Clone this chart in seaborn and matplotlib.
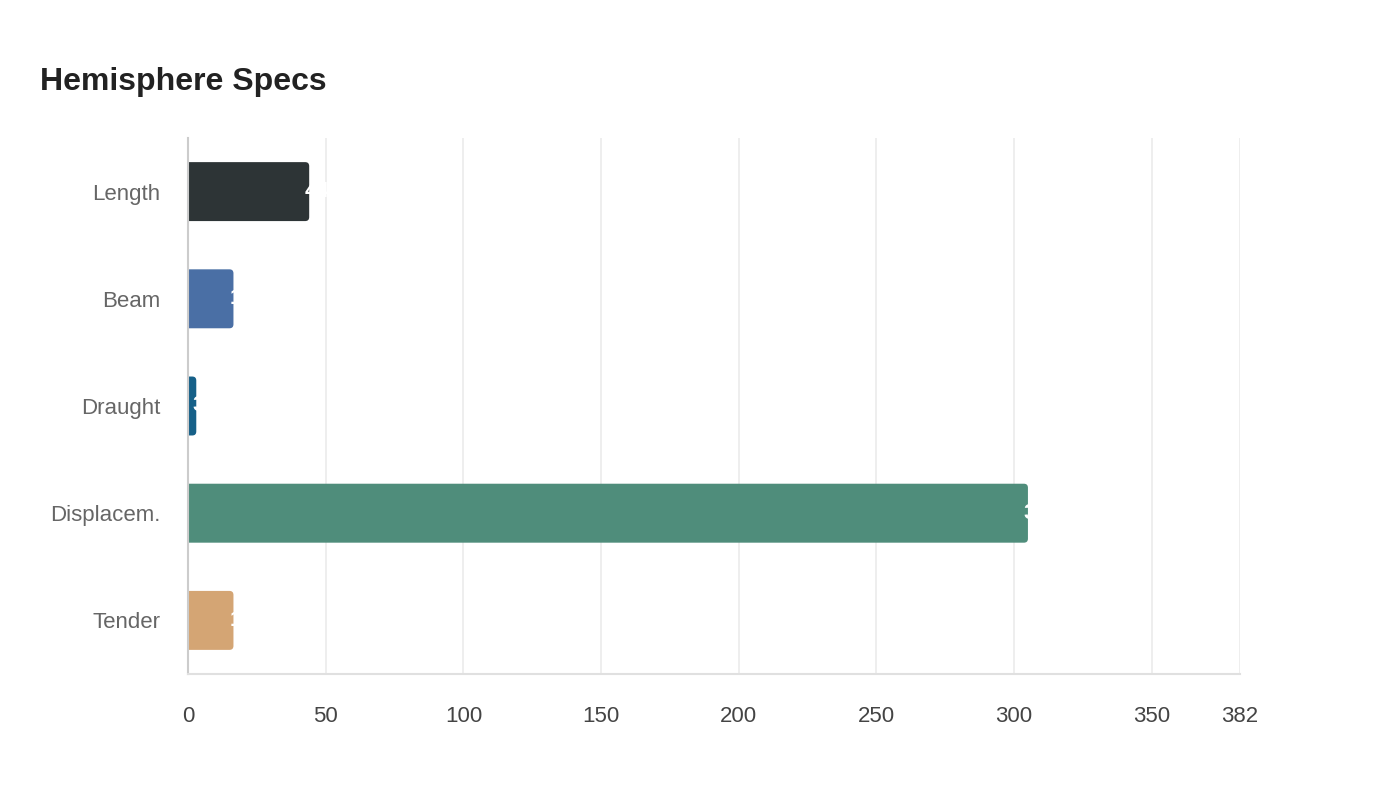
import numpy as np
import pandas as pd
import matplotlib
matplotlib.use("Agg")
import matplotlib.pyplot as plt
import seaborn as sns
from matplotlib.patches import FancyBboxPatch

# Data
categories = ["Length", "Beam", "Draught", "Displacem.", "Tender"]
values = [44, 16.5, 3, 305, 16.5]
colors = ["#2d3436", "#4a6fa5", "#166088", "#4f8d7b", "#d4a574"]
x_ticks = [0, 50, 100, 150, 200, 250, 300, 350, 382]
x_max = 382

sns.set_theme(style="white")
plt.rcParams["font.family"] = ["Liberation Sans", "DejaVu Sans"]

df = pd.DataFrame({"category": categories, "value": values})

fig = plt.figure(figsize=(14, 8), dpi=100)
ax = fig.add_axes([0.1343, 0.1575, 0.7514, 0.67])

sns.barplot(
    data=df, y="category", x="value", hue="category",
    palette=colors, orient="h", width=0.55, legend=False, ax=ax,
    saturation=1,
)

ax.set_xlim(0, x_max)
ax.set_ylim(len(categories) - 0.5, -0.5)

# swap plain rectangles for bars with rounded ends
bbox = ax.get_window_extent()
px_per_x = bbox.width / x_max
px_per_y = bbox.height / len(categories)
r_px = 4
for p in list(ax.patches):
    x0, y0 = p.get_x(), p.get_y()
    w, h = p.get_width(), p.get_height()
    fc = p.get_facecolor()
    p.remove()
    pad_x = r_px / px_per_x
    ax.add_patch(FancyBboxPatch(
        (x0 - pad_x, y0), w + pad_x, h,
        boxstyle=f"round,pad=0,rounding_size={r_px / px_per_x}",
        mutation_aspect=px_per_x / px_per_y,
        facecolor=fc, edgecolor="none", zorder=2, clip_on=True,
    ))

# value labels (white, sitting on the bar end)
for i, v in enumerate(values):
    ax.annotate(f"{v:g}", xy=(v, i), xytext=(-3, 0), textcoords="offset points",
                ha="left", va="center", color="white", fontsize=16,
                fontweight="bold", zorder=3)

ax.set_xticks(x_ticks)
ax.set_xticklabels([str(t) for t in x_ticks])
ax.grid(axis="x", color="#ebebeb", linewidth=1.2, zorder=0)
ax.set_axisbelow(True)
ax.tick_params(axis="x", length=7, width=1.2, color="#ebebeb", pad=16,
               labelsize=16, labelcolor="#444444")
ax.tick_params(axis="y", length=0, pad=20, labelsize=16, labelcolor="#666666")
ax.set_xlabel("")
ax.set_ylabel("")

for s in ["top", "right"]:
    ax.spines[s].set_visible(False)
ax.spines["left"].set_color("#cccccc")
ax.spines["left"].set_linewidth(1.5)
ax.spines["bottom"].set_color("#e0e0e0")
ax.spines["bottom"].set_linewidth(1.5)

fig.text(40 / 1400, 1 - 90 / 800, "Hemisphere Specs", fontsize=23,
         fontweight="bold", color="#222222", ha="left", va="baseline")

fig.savefig("out.png", dpi=100, facecolor="white")
